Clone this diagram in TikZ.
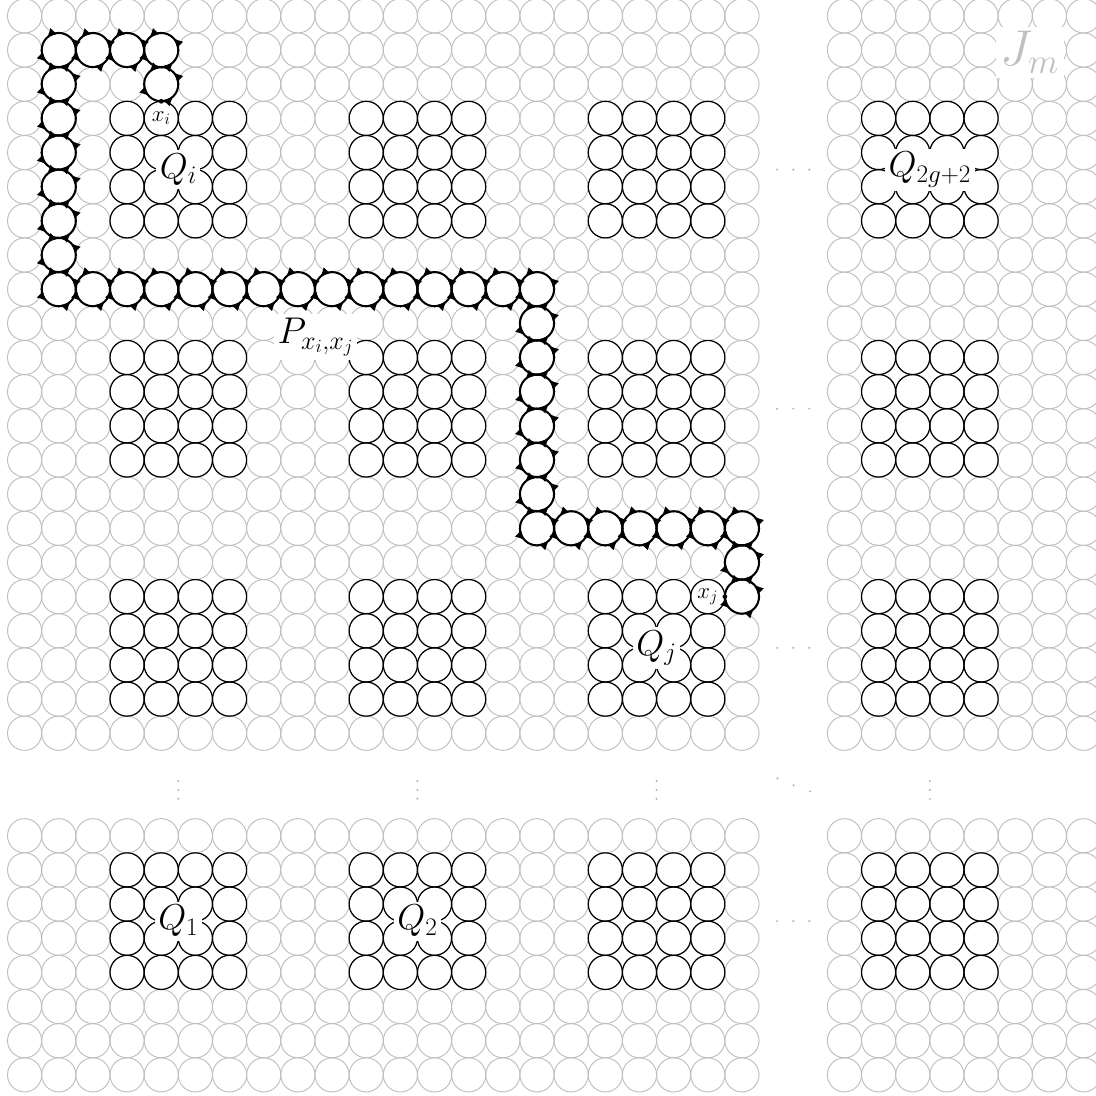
\RequirePackage{fix-cm}
\documentclass[tikz,border=0pt]{standalone}
\usetikzlibrary{decorations.markings,arrows.meta}
\tikzset{
  gc/.style={draw=gray!50, line width=0.8pt},
  bc/.style={draw=black, line width=1pt},
  ptip/.style={\arrow{Latex[length=8pt,width=7.5pt]}},
  pc/.style={draw=black, line width=1.7pt, postaction=decorate,
    decoration={markings,
      mark=at position 0.125 with {\arrow{Latex[length=8pt,width=7.5pt]}},
      mark=at position 0.375 with {\arrow{Latex[length=8pt,width=7.5pt]}},
      mark=at position 0.625 with {\arrow{Latex[length=8pt,width=7.5pt]}},
      mark=at position 0.875 with {\arrow{Latex[length=8pt,width=7.5pt]}}}},
  qlab/.style={fill=white, inner sep=3pt, font=\fontsize{30}{32}\selectfont},
  plab/.style={fill=white, inner sep=3pt, font=\fontsize{31}{33}\selectfont},
  xlab/.style={inner sep=0pt, font=\fontsize{19}{21}\selectfont},
  jlab/.style={fill=white, text=gray!50, inner sep=4pt, font=\fontsize{42}{44}\selectfont},
  gdot/.style={fill=gray!55},
}
\begin{document}
\begin{tikzpicture}
\useasboundingbox (-0.720,0.465) rectangle (31.364,-31.59);
% gray grid
\foreach \a/\b in {0/21,24/31}{
  \foreach \c in {\a,...,\b}{
    \foreach \p/\q in {0/21,24/31}{
      \foreach \r in {\p,...,\q}{
        \draw[gc] (\c,-\r) circle (0.5);
      }
    }
  }
}
% black blocks
\foreach \bx in {3,10,17,25}{
  \foreach \by in {3,10,17,25}{
    \foreach \i in {0,...,3}{
      \foreach \j in {0,...,3}{
        \draw[bc] (\bx+\i,-\by-\j) circle (0.5);
      }
    }
  }
}
% path circles
\foreach \c/\r in {1/1,2/1,3/1,4/1,4/2,1/2,1/3,1/4,1/5,1/6,1/7,1/8,
  2/8,3/8,4/8,5/8,6/8,7/8,8/8,9/8,10/8,11/8,12/8,13/8,14/8,15/8,
  15/9,15/10,15/11,15/12,15/13,15/14,15/15,
  16/15,17/15,18/15,19/15,20/15,21/15,21/16,21/17}{
  \draw[pc] (\c,-\r) circle (0.5);
  \fill (\c,-\r+0.5) circle (0.035);
  \fill (\c,-\r-0.5) circle (0.035);
  \fill (\c+0.5,-\r) circle (0.035);
  \fill (\c-0.5,-\r) circle (0.035);
}
% endpoints
\fill (4,-2.5) circle (0.07);
\fill (20.5,-17) circle (0.07);
% labels
\node[xlab] (xi) at (4,-3) {$x_i$};
\node[xlab] (xj) at (20,-17) {$x_j$};
\node[qlab] (Qi) at (4.5,-4.5) {$Q_i$};
\node[qlab] (Qj) at (18.5,-18.5) {$Q_j$};
\node[qlab] (Q1) at (4.5,-26.5) {$Q_1$};
\node[qlab] (Q2) at (11.5,-26.5) {$Q_2$};
\node[qlab] (Qg) at (26.5,-4.5) {$Q_{2g+2}$};
\node[plab] (P) at (8.52,-9.41) {$P_{x_i,x_j}$};
\node[jlab] (J) at (29.43,-1.07) {$J_m$};
% horizontal dots
\foreach \r in {4.5,11.5,18.5,26.5}{
  \foreach \c in {22.03,22.5,22.97}{
    \fill[gdot] (\c,-\r) circle (0.035);
  }
}
% vertical dots
\foreach \c in {4.5,11.5,18.5,26.5}{
  \foreach \r in {22.4,22.66,22.92}{
    \fill[gdot] (\c,-\r) circle (0.035);
  }
}
% diagonal dots
\foreach \c/\r in {22.04/22.32,22.51/22.52,22.99/22.70}{
  \fill[gdot] (\c,-\r) circle (0.035);
}
\end{tikzpicture}
\end{document}
